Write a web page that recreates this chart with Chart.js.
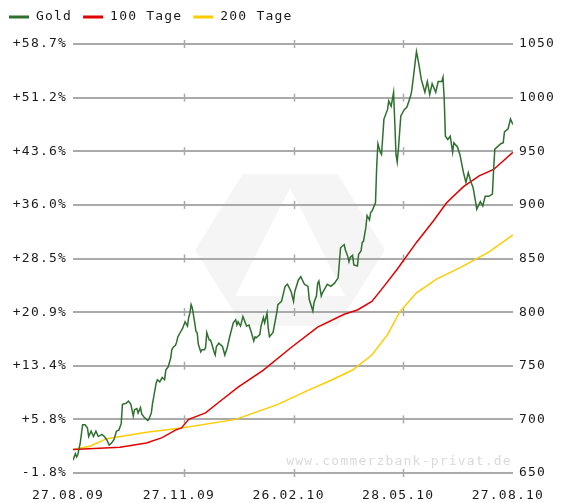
<!DOCTYPE html>
<html>
<head>
<meta charset="utf-8">
<title>Gold</title>
<script src="https://cdn.jsdelivr.net/npm/chart.js@4.4.4/dist/chart.umd.min.js"></script>
<style>
  html, body { margin: 0; padding: 0; background: #fff; }
  canvas { display: block; }
</style>
</head>
<body>
<canvas id="goldChart" width="564" height="503"></canvas>
<script>
// ---- data (day 0 = 27.08.09, prices in EUR) ----
const xTickDays   = [0, 92, 183, 274, 365];
const xTickLabels = ['27.08.09', '27.11.09', '26.02.10', '28.05.10', '27.08.10'];

const priceTicks    = [650, 700, 750, 800, 850, 900, 950, 1000, 1050];
const percentLabels = ['-1.8%', '+5.8%', '+13.4%', '+20.9%', '+28.5%', '+36.0%', '+43.6%', '+51.2%', '+58.7%'];

const seriesNames = ['Gold', '100 Tage', '200 Tage'];

const goldDays = [
  0, 2, 3, 4, 6, 8, 10, 12, 13, 15, 17, 19, 21, 24, 26, 28, 30, 32, 34, 36,
  38, 40, 41, 44, 46, 48, 50, 51, 53, 54, 56, 57, 59, 62, 63, 65, 66, 67, 69, 70,
  72, 74, 76, 77, 79, 81, 82, 83, 85, 86, 87, 89, 91, 92, 93, 95, 96, 97, 98, 99,
  101, 102, 103, 104, 106, 107, 109, 110, 111, 113, 114, 115, 117, 118, 119, 121, 124, 126, 128, 130,
  133, 135, 136, 137, 139, 141, 144, 146, 148, 150, 151, 152, 155, 156, 158, 159, 161, 162, 163, 166,
  169, 170, 173, 176, 178, 181, 183, 184, 187, 189, 192, 195, 196, 199, 200, 202, 203, 204, 206, 207,
  210, 211, 214, 217, 220, 222, 225, 226, 228, 229, 230, 232, 233, 236, 237, 239, 240, 241, 243, 244,
  246, 247, 248, 251, 252, 253, 255, 256, 258, 261, 262, 264, 266, 267, 268, 269, 270, 272, 275, 277,
  280, 281, 283, 284, 285, 287, 289, 290, 292, 294, 296, 298, 301, 303, 306, 307, 308, 309, 311, 313,
  315, 316, 319, 321, 324, 326, 328, 330, 332, 334, 335, 338, 340, 342, 345, 348, 349, 350, 353, 355,
  357, 358, 361, 363, 365
];
const goldPrices = [
  662, 668, 665, 667, 678, 695, 695, 692, 684, 689, 684, 689, 684, 686, 684, 681, 676, 678, 681, 689,
  690, 696, 714, 715, 717, 714, 703, 709, 710, 706, 711, 705, 702, 699, 700, 706, 715, 721, 734, 737,
  735, 739, 737, 746, 749, 757, 765, 767, 769, 772, 777, 781, 785, 788, 791, 787, 795, 799, 807, 804,
  790, 782, 781, 770, 763, 765, 765, 767, 781, 774, 774, 771, 763, 760, 768, 771, 768, 760, 767, 777,
  790, 793, 788, 791, 787, 796, 787, 788, 781, 773, 777, 776, 779, 787, 795, 790, 799, 785, 777, 781,
  799, 807, 810, 824, 826, 819, 810, 819, 830, 833, 826, 824, 812, 801, 809, 815, 827, 829, 815, 818,
  824, 826, 824, 827, 832, 860, 863, 858, 852, 847, 851, 853, 844, 843, 854, 857, 865, 866, 879, 890,
  886, 893, 894, 902, 936, 957, 949, 947, 980, 989, 997, 992, 1005, 977, 947, 940, 952, 983, 989, 991,
  1001, 1006, 1024, 1034, 1043, 1031, 1017, 1013, 1005, 1015, 1003, 1013, 1005, 1015, 1015, 1019, 999, 964, 961, 964,
  949, 958, 954, 947, 930, 921, 930, 922, 916, 903, 896, 903, 899, 908, 908, 910, 933, 952, 955, 957,
  958, 968, 971, 980, 975
];

const ma100Days   = [0, 22, 39, 61, 74, 85, 90, 96, 110, 121, 137, 158, 181, 203, 225, 236, 248, 258, 269, 285, 299, 310, 324, 337, 349, 365];
const ma100Prices = [672, 673, 674, 678, 683, 690, 692, 700, 706, 716, 730, 746, 767, 786, 798, 802, 810, 824, 840, 865, 885, 902, 917, 927, 933, 949];

const ma200Days   = [0, 14, 28, 61, 90, 135, 170, 195, 215, 232, 248, 261, 271, 285, 302, 322, 345, 365];
const ma200Prices = [672, 675, 682, 688, 692, 700, 714, 727, 737, 746, 760, 779, 800, 818, 831, 842, 856, 872];

(function () {
  'use strict';

  const FONT = { family: "'DejaVu Sans Mono', monospace", size: 13 };
  const TEXT = '#1a1a1a';
  const GRID = '#aaaaaa';
  const SPACING = '1.2px';

  function toPoints(days, values) {
    return days.map(function (d, i) { return { x: d, y: values[i] }; });
  }

  function setTicks(values) {
    return function (scale) {
      scale.ticks = values.map(function (v) { return { value: v }; });
    };
  }

  // =========================================================================
  // PLUGINS: letter spacing, watermark, tick marks, legend
  // =========================================================================
  const spacingPlugin = {
    id: 'spacing',
    beforeUpdate: function (chart) { chart.ctx.letterSpacing = SPACING; },
    beforeDraw: function (chart) { chart.ctx.letterSpacing = SPACING; }
  };

  const watermarkPlugin = {
    id: 'watermark',
    beforeDraw: function (chart) {
      const ctx = chart.ctx;
      const a = chart.chartArea;
      ctx.save();
      // faint logo behind the grid
      const cx = 290, cy = 250, r = 95;
      ctx.beginPath();
      for (let k = 0; k < 6; k++) {
        const ang = Math.PI / 3 * k;
        const px = cx + r * Math.cos(ang), py = cy + r * Math.sin(ang) * 0.92;
        if (k === 0) ctx.moveTo(px, py); else ctx.lineTo(px, py);
      }
      ctx.closePath();
      ctx.moveTo(cx, cy - 62);
      ctx.lineTo(cx + 55, cy + 46);
      ctx.lineTo(cx - 55, cy + 46);
      ctx.closePath();
      ctx.fillStyle = '#f5f5f5';
      ctx.fill('evenodd');

      ctx.font = FONT.size + 'px ' + FONT.family;
      ctx.fillStyle = '#dadada';
      ctx.textAlign = 'right';
      ctx.textBaseline = 'middle';
      ctx.fillText('www.commerzbank-privat.de', a.right - 1, a.bottom - 11);
      ctx.restore();
    }
  };

  const tickMarkPlugin = {
    id: 'tickMarks',
    beforeDatasetsDraw: function (chart) {
      const ctx = chart.ctx;
      const xs = chart.scales.x;
      const ys = chart.scales.y;
      ctx.save();
      ctx.strokeStyle = GRID;
      ctx.lineWidth = 1.5;
      xTickDays.slice(1, -1).forEach(function (d) {
        const px = Math.round(xs.getPixelForValue(d)) + 0.5;
        priceTicks.forEach(function (p) {
          const py = ys.getPixelForValue(p);
          ctx.beginPath();
          ctx.moveTo(px, py - 4);
          ctx.lineTo(px, py + 4);
          ctx.stroke();
        });
      });
      ctx.restore();
    }
  };

  const legendPlugin = {
    id: 'lineLegend',
    afterDraw: function (chart) {
      const ctx = chart.ctx;
      let x = 9;
      const y = 17;
      ctx.save();
      ctx.font = FONT.size + 'px ' + FONT.family;
      ctx.textBaseline = 'middle';
      ctx.textAlign = 'left';
      chart.data.datasets.forEach(function (ds) {
        ctx.fillStyle = ds.borderColor;
        ctx.fillRect(x, y - 1.5, 20, 3);
        ctx.fillStyle = TEXT;
        ctx.fillText(ds.label, x + 27, y);
        x += 27 + ctx.measureText(ds.label).width + 11;
      });
      ctx.restore();
    }
  };

  // =========================================================================
  // CHART
  // =========================================================================
  const canvas = document.getElementById('goldChart');

  new Chart(canvas.getContext('2d'), {
    type: 'line',
    data: {
      datasets: [
        { label: seriesNames[0], data: toPoints(goldDays, goldPrices), borderColor: '#2f6f2f', borderWidth: 1.5 },
        { label: seriesNames[1], data: toPoints(ma100Days, ma100Prices), borderColor: '#e00000', borderWidth: 1.5 },
        { label: seriesNames[2], data: toPoints(ma200Days, ma200Prices), borderColor: '#ffcc00', borderWidth: 1.5 }
      ]
    },
    options: {
      responsive: false,
      animation: false,
      layout: { padding: { top: 44 } },
      elements: { point: { radius: 0 }, line: { tension: 0 } },
      plugins: { legend: { display: false }, tooltip: { enabled: false } },
      scales: {
        x: {
          type: 'linear',
          min: 0,
          max: 365,
          afterBuildTicks: setTicks(xTickDays),
          afterFit: function (s) { s.height = 30; },
          grid: { display: false, drawTicks: false },
          border: { display: false },
          ticks: {
            autoSkip: false,
            maxRotation: 0,
            padding: 15,
            labelOffset: -5,
            color: TEXT,
            font: FONT,
            callback: function (v, i) { return xTickLabels[i]; }
          }
        },
        yPct: {
          position: 'left',
          min: 650,
          max: 1050,
          afterBuildTicks: setTicks(priceTicks),
          afterFit: function (s) { s.width = 73; },
          grid: { display: false, drawTicks: false },
          border: { display: false },
          ticks: {
            padding: 6,
            color: TEXT,
            font: FONT,
            callback: function (v, i) { return percentLabels[i]; }
          }
        },
        y: {
          position: 'right',
          min: 650,
          max: 1050,
          afterBuildTicks: setTicks(priceTicks),
          afterFit: function (s) { s.width = 47; },
          grid: { color: GRID, lineWidth: 2, drawTicks: false },
          border: { display: false },
          ticks: {
            padding: 6,
            color: TEXT,
            font: FONT,
            callback: function (v) { return String(v); }
          }
        }
      }
    },
    plugins: [spacingPlugin, watermarkPlugin, tickMarkPlugin, legendPlugin]
  });
})();
</script>
</body>
</html>
